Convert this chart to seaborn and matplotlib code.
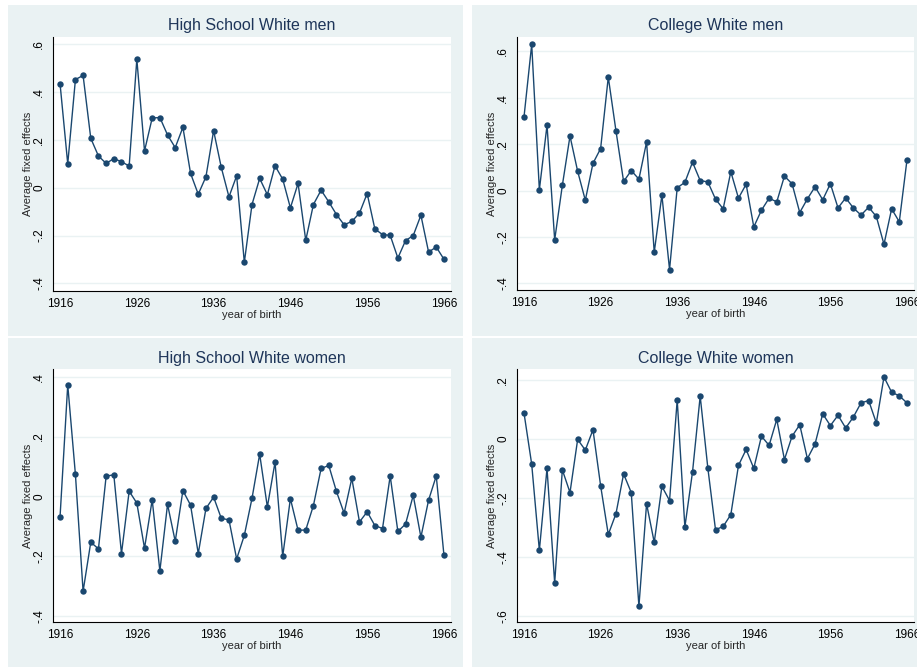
import numpy as np
import pandas as pd
import matplotlib
matplotlib.use("Agg")
import matplotlib.pyplot as plt
from matplotlib.patches import Rectangle
import seaborn as sns

years = list(range(1916, 1967))

hs_men = [0.435, 0.100, 0.453, 0.470, 0.207, 0.133, 0.102, 0.122, 0.109, 0.091,
          0.538, 0.154, 0.292, 0.294, 0.221, 0.168, 0.253, 0.060, -0.027, 0.046,
          0.239, 0.085, -0.038, 0.050, -0.312, -0.070, 0.039, -0.029, 0.092, 0.036,
          -0.084, 0.018, -0.220, -0.070, -0.010, -0.059, -0.112, -0.155, -0.141, -0.106,
          -0.024, -0.172, -0.196, -0.199, -0.294, -0.221, -0.200, -0.115, -0.269, -0.248,
          -0.299]

col_men = [0.319, 0.630, 0.003, 0.282, -0.213, 0.022, 0.235, 0.083, -0.042, 0.117,
           0.181, 0.489, 0.258, 0.039, 0.086, 0.049, 0.209, -0.266, -0.020, -0.341,
           0.012, 0.035, 0.122, 0.043, 0.037, -0.037, -0.079, 0.081, -0.033, 0.027,
           -0.157, -0.085, -0.033, -0.049, 0.062, 0.029, -0.095, -0.036, 0.016, -0.040,
           0.029, -0.075, -0.032, -0.075, -0.106, -0.072, -0.112, -0.232, -0.079, -0.135,
           0.131]

hs_women = [-0.068, 0.373, 0.073, -0.318, -0.154, -0.176, 0.067, 0.072, -0.192, 0.017,
            -0.023, -0.174, -0.012, -0.250, -0.027, -0.151, 0.019, -0.030, -0.192, -0.041,
            -0.003, -0.074, -0.079, -0.210, -0.131, -0.007, 0.141, -0.036, 0.114, -0.201,
            -0.008, -0.114, -0.113, -0.031, 0.093, 0.103, 0.016, -0.057, 0.060, -0.086,
            -0.052, -0.098, -0.108, 0.068, -0.118, -0.093, 0.003, -0.137, -0.013, 0.068,
            -0.197]

col_women = [0.088, -0.085, -0.377, -0.099, -0.488, -0.104, -0.181, -0.001, -0.037, 0.032,
             -0.158, -0.323, -0.253, -0.118, -0.181, -0.567, -0.219, -0.350, -0.160, -0.208,
             0.133, -0.298, -0.111, 0.146, -0.098, -0.307, -0.296, -0.256, -0.089, -0.035,
             -0.099, 0.010, -0.021, 0.067, -0.069, 0.010, 0.049, -0.066, -0.016, 0.086,
             0.046, 0.081, 0.038, 0.075, 0.123, 0.131, 0.055, 0.211, 0.159, 0.147,
             0.123]

titles = ["High School White men", "College White men",
          "High School White women", "College White women"]
series = [hs_men, col_men, hs_women, col_women]
yticks_list = [[-0.4, -0.2, 0, 0.2, 0.4, 0.6],
               [-0.4, -0.2, 0, 0.2, 0.4, 0.6],
               [-0.4, -0.2, 0, 0.2, 0.4],
               [-0.6, -0.4, -0.2, 0, 0.2]]
xticks = [1916, 1926, 1936, 1946, 1956, 1966]

sns.set_theme(style="white")
plt.rcParams["font.family"] = ["Liberation Sans", "DejaVu Sans"]

W, H = 917, 669
fig = plt.figure(figsize=(W / 100, H / 100), dpi=100)
fig.patch.set_facecolor("white")

BG = "#eaf2f3"
NAVY = "#1a476f"
TITLE_C = "#1e3559"


def px_rect(x0, y0, x1, y1):
    return [x0 / W, 1 - y1 / H, (x1 - x0) / W, (y1 - y0) / H]


panel_bg = [(8, 5, 463, 336), (472, 5, 930, 336),
            (8, 338, 463, 667), (472, 338, 930, 667)]
axes_px = [(53, 37, 451, 291), (517, 37, 914, 290),
           (53, 369, 451, 622), (517, 369, 914, 622)]
ylims = [(-0.432, 0.631), (-0.429, 0.662), (-0.421, 0.426), (-0.620, 0.238)]
title_pads = [5.0, 5.0, 4.0, 4.0]


def fmt(v):
    if abs(v) < 1e-9:
        return "0"
    s = f"{v:.1f}"
    s = s.replace("0.", ".")
    return s


for i in range(4):
    x0, y0, x1, y1 = panel_bg[i]
    bg = Rectangle((x0 / W, 1 - y1 / H), (x1 - x0) / W, (y1 - y0) / H,
                   transform=fig.transFigure, facecolor=BG,
                   edgecolor="none", zorder=-10)
    fig.add_artist(bg)
    ax = fig.add_axes(px_rect(*axes_px[i]))
    ax.set_zorder(1)
    ax.set_facecolor("white")
    df = pd.DataFrame({"year": years, "val": series[i]})
    sns.lineplot(data=df, x="year", y="val", ax=ax, color=NAVY, linewidth=1.0,
                 marker="o", markersize=4.6, markeredgewidth=0, zorder=3)
    ax.set_xlim(1915.08, 1966.92)
    ax.set_ylim(*ylims[i])
    ax.set_xticks(xticks)
    ax.set_xticklabels([str(t) for t in xticks], fontsize=8.5)
    yt = yticks_list[i]
    ax.set_yticks(yt)
    ax.set_yticklabels([fmt(v) for v in yt], fontsize=8.5, rotation=90, va="center")
    ax.grid(axis="y", color=BG, linewidth=1.0)
    ax.grid(axis="x", visible=False)
    ax.tick_params(axis="x", direction="out", length=4, width=0.8,
                   color="black", pad=1.2, labelcolor="black")
    ax.tick_params(axis="y", direction="out", length=4, width=0.8,
                   color="black", pad=1.5, labelcolor="black")
    for s in ["top", "right"]:
        ax.spines[s].set_visible(False)
    for s in ["left", "bottom"]:
        ax.spines[s].set_color("black")
        ax.spines[s].set_linewidth(0.8)
    ax.set_xlabel("year of birth", fontsize=8, labelpad=0)
    ax.set_ylabel("Average fixed effects", fontsize=8, labelpad=0)
    ax.set_title(titles[i], fontsize=11.5, color=TITLE_C, pad=title_pads[i])

fig.savefig("out.png", dpi=100, facecolor="white")
